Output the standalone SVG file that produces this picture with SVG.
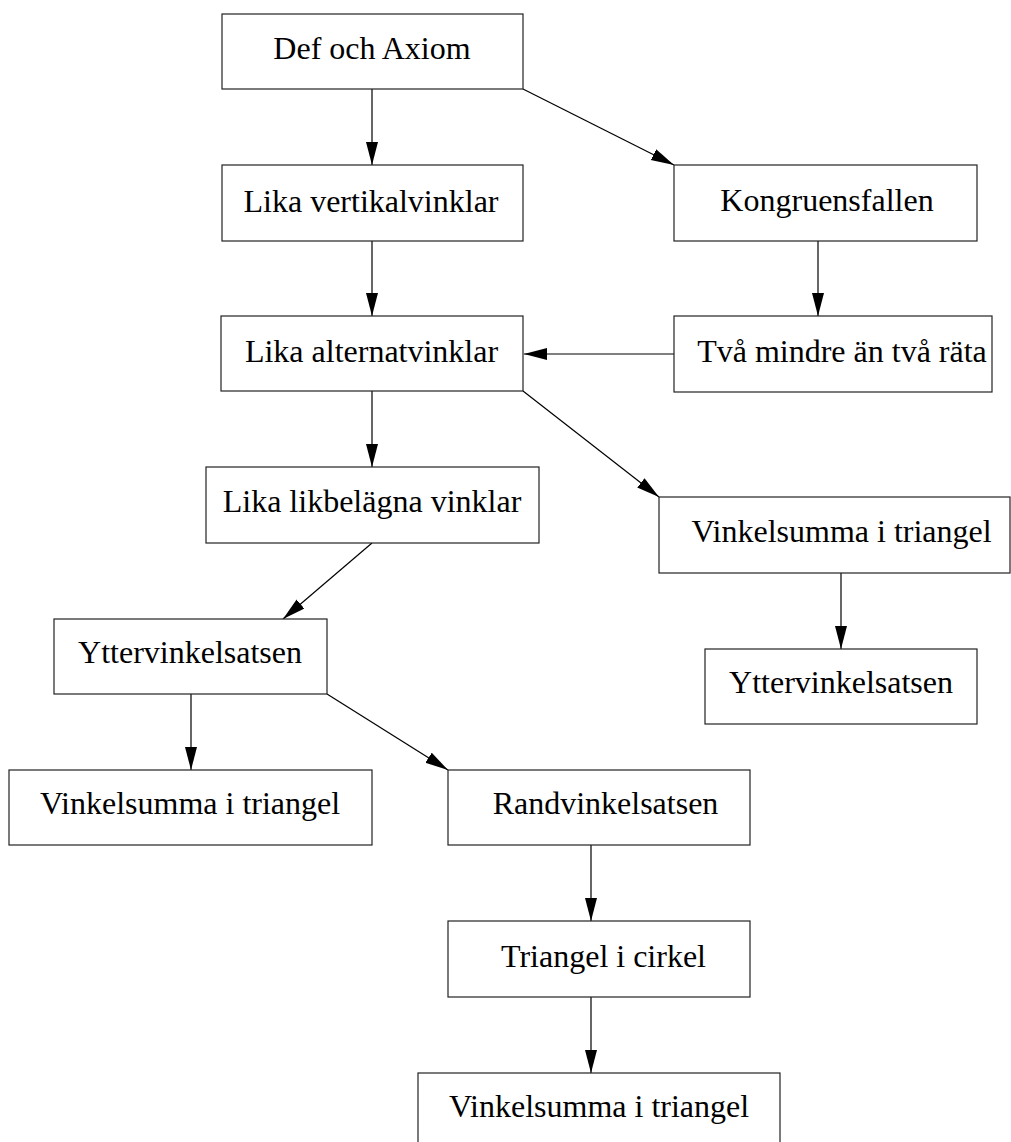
<svg xmlns="http://www.w3.org/2000/svg" width="1011" height="1142" viewBox="0 0 1011 1142">
<style>
.box{fill:#fff;stroke:#222;stroke-width:1.2}
.lbl{font-family:"Liberation Serif","Times New Roman",serif;font-size:32px;fill:#000;text-anchor:middle}
.edge{stroke:#000;stroke-width:1.2;fill:none;marker-end:url(#ah)}
</style>
<defs>
<marker id="ah" markerUnits="userSpaceOnUse" markerWidth="24" markerHeight="13" refX="23" refY="6" orient="auto">
<path d="M0,0 L23,6 L0,12 z" fill="#000"/>
</marker>
</defs>
<rect width="1011" height="1142" fill="#fff"/>
<g id="connectors">
<line class="edge" x1="372" y1="89" x2="372" y2="165"/>
<line class="edge" x1="523" y1="89" x2="674" y2="165"/>
<line class="edge" x1="818" y1="241" x2="818" y2="316"/>
<line class="edge" x1="674" y1="354" x2="524" y2="354"/>
<line class="edge" x1="372" y1="241" x2="372" y2="316"/>
<line class="edge" x1="372" y1="391" x2="372" y2="467"/>
<line class="edge" x1="523" y1="391" x2="659" y2="497"/>
<line class="edge" x1="841" y1="573" x2="841" y2="649"/>
<line class="edge" x1="372" y1="543" x2="283" y2="619"/>
<line class="edge" x1="191" y1="694" x2="191" y2="770"/>
<line class="edge" x1="327" y1="694" x2="448" y2="770"/>
<line class="edge" x1="591" y1="845" x2="591" y2="921"/>
<line class="edge" x1="591" y1="997" x2="591" y2="1073"/>
</g>
<g id="n1"><rect class="box" x="222" y="14" width="301" height="75"/><text class="lbl" x="372" y="59">Def och Axiom</text></g>
<g id="n2"><rect class="box" x="222" y="165" width="301" height="76"/><text class="lbl" x="371" y="212">Lika vertikalvinklar</text></g>
<g id="n3"><rect class="box" x="674" y="165" width="303" height="76"/><text class="lbl" x="827" y="211">Kongruensfallen</text></g>
<g id="n4"><rect class="box" x="674" y="316" width="318" height="76"/><text class="lbl" x="842" y="362">Två mindre än två räta</text></g>
<g id="n5"><rect class="box" x="221" y="316" width="302" height="75"/><text class="lbl" x="371.5" y="362">Lika alternatvinklar</text></g>
<g id="n6"><rect class="box" x="206" y="467" width="333" height="76"/><text class="lbl" x="372" y="512">Lika likbelägna vinklar</text></g>
<g id="n7"><rect class="box" x="659" y="497" width="351" height="76"/><text class="lbl" x="841.5" y="542">Vinkelsumma i triangel</text></g>
<g id="n8"><rect class="box" x="54" y="619" width="273" height="75"/><text class="lbl" x="190" y="663">Yttervinkelsatsen</text></g>
<g id="n9"><rect class="box" x="705" y="649" width="272" height="75"/><text class="lbl" x="841" y="693">Yttervinkelsatsen</text></g>
<g id="n10"><rect class="box" x="9" y="770" width="363" height="75"/><text class="lbl" x="190" y="814">Vinkelsumma i triangel</text></g>
<g id="n11"><rect class="box" x="448" y="770" width="302" height="75"/><text class="lbl" x="605.5" y="814">Randvinkelsatsen</text></g>
<g id="n12"><rect class="box" x="448" y="921" width="302" height="76"/><text class="lbl" x="603.5" y="967">Triangel i cirkel</text></g>
<g id="n13"><rect class="box" x="418" y="1073" width="362" height="80"/><text class="lbl" x="599" y="1117">Vinkelsumma i triangel</text></g>
</svg>
